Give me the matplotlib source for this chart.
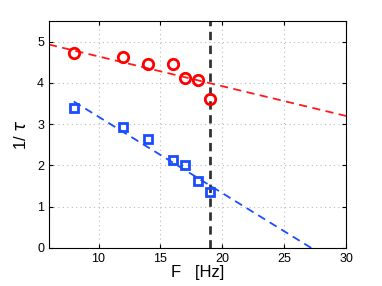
import numpy as np
from matplotlib import pyplot as plt

# measured points
freq = [8, 12, 14, 16, 17, 18, 19]
rate_red = [4.72, 4.62, 4.47, 4.47, 4.11, 4.07, 3.62]
rate_blue = [3.40, 2.93, 2.65, 2.14, 2.00, 1.62, 1.36]

# linear fits (endpoints)
fit_red_x = [6, 30]
fit_red_y = [4.93, 3.20]
fit_blue_x = [8, 27.2]
fit_blue_y = [3.55, 0.0]

f_crit = 19

plt.rcParams['font.family'] = ['Liberation Sans', 'DejaVu Sans']

fig = plt.figure(figsize=(3.82, 2.86), dpi=100)
ax = fig.add_axes([49/382, 1 - 248/286, 297/382, 227/286])

ax.plot(fit_red_x, fit_red_y, '--', color='#ff1a1a', lw=1.3, dashes=(4.5, 3))
ax.plot(fit_blue_x, fit_blue_y, '--', color='#1a4dff', lw=1.3, dashes=(4.5, 3))
ax.axvline(f_crit, color='#333333', lw=2, ls='--', dashes=(3, 2))

ax.plot(freq, rate_red, 'o', ms=7.5, mfc='none', mec='red', mew=2)
ax.plot(freq, rate_blue, 's', ms=6, mfc='none', mec='#1a4dff', mew=2)

ax.set_xlim(6, 30)
ax.set_ylim(0, 5.5)
ax.set_xticks([10, 15, 20, 25, 30])
ax.set_yticks([0, 1, 2, 3, 4, 5])
ax.grid(True, ls=(0, (1, 3)), color='#bbbbbb', lw=0.8)
ax.tick_params(direction='in', labelsize=9, top=True, right=True, length=3)
ax.set_xlabel('F   [Hz]', fontsize=12, labelpad=0)
ax.set_ylabel(r'1/ $\tau$', fontsize=12, labelpad=6)

fig.savefig('out.png', dpi=100)
